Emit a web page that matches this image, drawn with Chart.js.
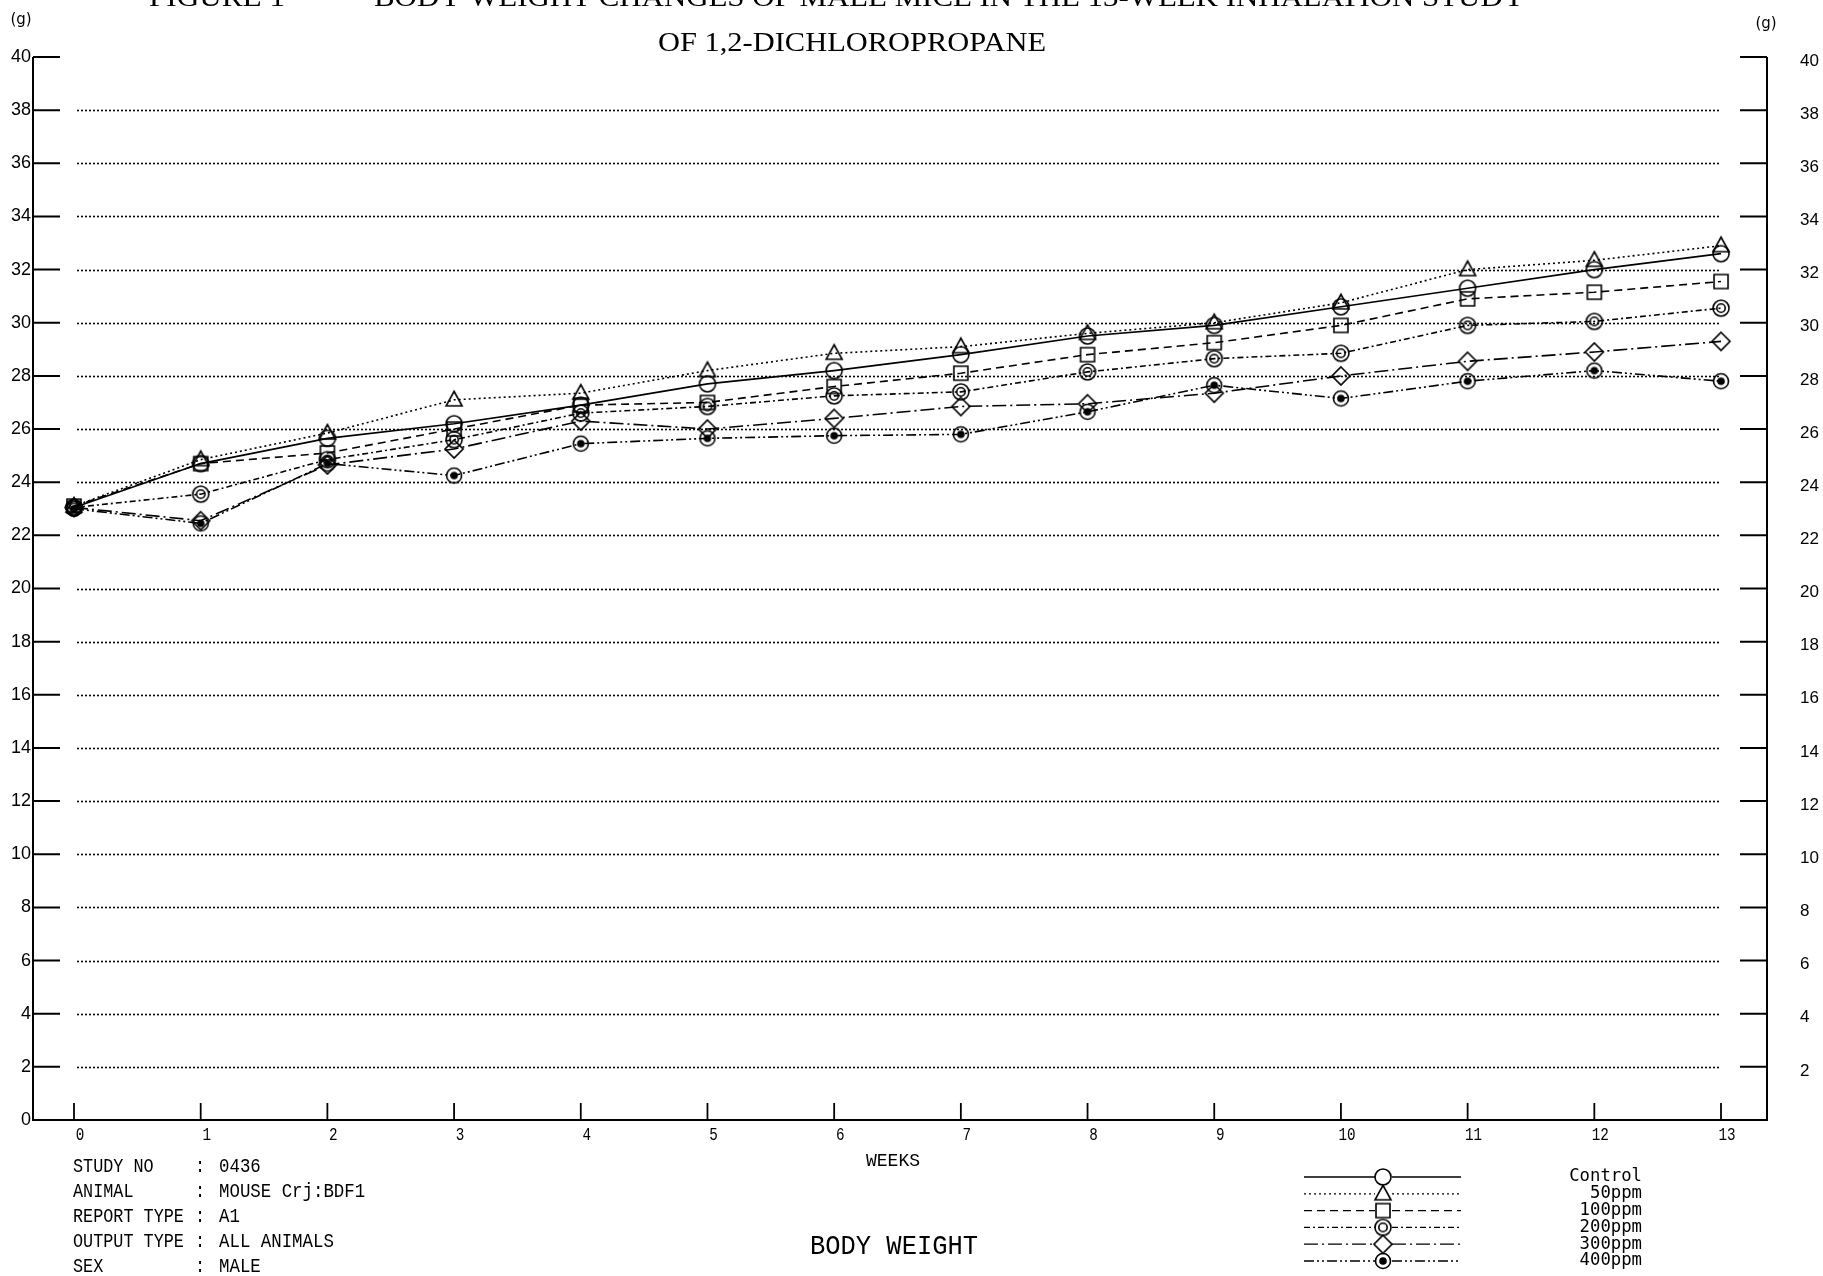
<!DOCTYPE html>
<html>
<head>
<meta charset="utf-8">
<title>Body weight - 1,2-dichloropropane</title>
<script src="https://cdn.jsdelivr.net/npm/chart.js@4.4.0/dist/chart.umd.min.js"></script>
<style>
  html, body { margin: 0; padding: 0; background: #fff; }
  canvas { display: block; }
</style>
</head>
<body>
<canvas id="chart" width="1823" height="1276"></canvas>
<script>
// weeks on the x axis
const weeks = [0, 1, 2, 3, 4, 5, 6, 7, 8, 9, 10, 11, 12, 13];
const yTicks = [0, 2, 4, 6, 8, 10, 12, 14, 16, 18, 20, 22, 24, 26, 28, 30, 32, 34, 36, 38, 40];

// body weight (g)
const control = [23.05, 24.7, 25.65, 26.2, 26.9, 27.7, 28.2, 28.8, 29.5, 29.9, 30.6, 31.3, 32.0, 32.6];
const ppm50   = [23.1, 24.85, 25.85, 27.1, 27.35, 28.2, 28.85, 29.1, 29.6, 30.0, 30.75, 32.0, 32.35, 32.9];
const ppm100  = [23.1, 24.7, 25.1, 26.0, 26.9, 27.0, 27.6, 28.1, 28.8, 29.25, 29.9, 30.9, 31.15, 31.55];
const ppm200  = [23.05, 23.55, 24.85, 25.6, 26.6, 26.85, 27.25, 27.4, 28.15, 28.65, 28.85, 29.9, 30.05, 30.55];
const ppm300  = [23.05, 22.55, 24.65, 25.25, 26.3, 26.0, 26.4, 26.85, 26.95, 27.35, 28.0, 28.55, 28.9, 29.3];
const ppm400  = [23.0, 22.45, 24.7, 24.25, 25.45, 25.65, 25.75, 25.8, 26.65, 27.65, 27.15, 27.8, 28.2, 27.8];

const groupNames = ['Control', '50ppm', '100ppm', '200ppm', '300ppm', '400ppm'];

const infoLabels = ['STUDY NO', 'ANIMAL', 'REPORT TYPE', 'OUTPUT TYPE', 'SEX'];
const infoValues = ['0436', 'MOUSE Crj:BDF1', 'A1', 'ALL ANIMALS', 'MALE'];

function makeMarker(kind) {
    const c = document.createElement('canvas');
    c.width = 24;
    c.height = 24;
    const g = c.getContext('2d');
    const m = 12;
    g.strokeStyle = '#000';
    g.fillStyle = '#000';
    g.lineWidth = 1.6;
    g.beginPath();
    if (kind === 'circle') {
        g.arc(m, m, 8, 0, Math.PI * 2);
    } else if (kind === 'triangle') {
        g.moveTo(m, m - 8.5);
        g.lineTo(m + 8, m + 6);
        g.lineTo(m - 8, m + 6);
        g.closePath();
    } else if (kind === 'square') {
        g.rect(m - 7, m - 7, 14, 14);
    } else if (kind === 'double') {
        g.arc(m, m, 8, 0, Math.PI * 2);
        g.moveTo(m + 4.2, m);
        g.arc(m, m, 4.2, 0, Math.PI * 2);
    } else if (kind === 'diamond') {
        g.moveTo(m, m - 9);
        g.lineTo(m + 9, m);
        g.lineTo(m, m + 9);
        g.lineTo(m - 9, m);
        g.closePath();
    } else if (kind === 'dot') {
        g.arc(m, m, 7.5, 0, Math.PI * 2);
        g.stroke();
        g.beginPath();
        g.arc(m, m, 3.8, 0, Math.PI * 2);
        g.fill();
        return c;
    }
    g.stroke();
    return c;
}

const seriesValues = [control, ppm50, ppm100, ppm200, ppm300, ppm400];
const markers = ['circle', 'triangle', 'square', 'double', 'diamond', 'dot'].map(makeMarker);
const dashes = [[], [2, 3], [8, 5], [6, 3, 2, 3], [14, 4, 2, 4], [10, 3, 2, 3, 2, 3]];

const datasets = seriesValues.map((vals, i) => ({
    label: groupNames[i],
    data: weeks.map((w, j) => ({ x: w, y: vals[j] })),
    borderColor: '#000',
    borderWidth: 1.6,
    borderDash: dashes[i],
    pointStyle: markers[i],
    pointRadius: 8,
    fill: false,
    tension: 0
}));

// draws text, optionally squeezed/stretched to a given width
function putText(ctx, str, x, y, font, opts) {
    opts = opts || {};
    ctx.save();
    ctx.font = font;
    ctx.textBaseline = opts.baseline || 'middle';
    ctx.textAlign = 'left';
    const w = ctx.measureText(str).width;
    const sx = opts.width ? opts.width / w : (opts.sx || 1);
    const tw = w * sx;
    let left = x;
    if (opts.align === 'center') left = x - tw / 2;
    else if (opts.align === 'right') left = x - tw;
    ctx.translate(left, y);
    ctx.scale(sx, 1);
    ctx.fillStyle = '#000';
    ctx.fillText(str, 0, 0);
    ctx.restore();
}

const paper = {
    id: 'paper',
    beforeDatasetsDraw(chart) {
        const ctx = chart.ctx;
        const xs = chart.scales.x, ys = chart.scales.y;
        const x0 = xs.getPixelForValue(0) + 3;
        const x1 = xs.getPixelForValue(13);
        ctx.save();
        ctx.strokeStyle = '#000';
        ctx.lineWidth = 1.6;
        ctx.setLineDash([2, 2]);
        yTicks.forEach(v => {
            if (v === 0 || v === 40) return;
            const y = Math.round(ys.getPixelForValue(v)) + 0.5;
            ctx.beginPath();
            ctx.moveTo(x0, y);
            ctx.lineTo(x1, y);
            ctx.stroke();
        });
        ctx.restore();
    },
    afterDraw(chart) {
        const ctx = chart.ctx;
        const xs = chart.scales.x, ys = chart.scales.y;
        const a = chart.chartArea;
        const yTop = ys.getPixelForValue(40), yBot = ys.getPixelForValue(0);
        ctx.save();
        ctx.strokeStyle = '#000';
        ctx.setLineDash([]);
        ctx.lineWidth = 2;
        ctx.beginPath();
        ctx.moveTo(a.left, yTop);
        ctx.lineTo(a.left, yBot);
        ctx.lineTo(a.right, yBot);
        ctx.lineTo(a.right, yTop);
        ctx.stroke();

        // y ticks on both sides
        yTicks.forEach(v => {
            if (v === 0) return;
            const y = ys.getPixelForValue(v);
            ctx.beginPath();
            ctx.moveTo(a.left, y);
            ctx.lineTo(a.left + 27, y);
            ctx.moveTo(a.right - 27, y);
            ctx.lineTo(a.right, y);
            ctx.stroke();
        });
        yTicks.forEach(v => {
            const y = ys.getPixelForValue(v);
            putText(ctx, String(v), a.left - 2, y, '18px "Liberation Sans Narrow", "Liberation Sans", sans-serif', { align: 'right' });
            if (v !== 0) putText(ctx, String(v), a.right + 33, y + 4, '17px "Liberation Sans", sans-serif', { align: 'left' });
        });

        // x ticks
        ctx.lineWidth = 1.8;
        weeks.forEach(w => {
            const x = xs.getPixelForValue(w);
            ctx.beginPath();
            ctx.moveTo(x, yBot);
            ctx.lineTo(x, yBot - 17);
            ctx.stroke();
            putText(ctx, String(w), x + 6, yBot + 15, '19px "Liberation Mono", monospace', { align: 'center', sx: 0.75 });
        });

        // units
        putText(ctx, '(g)', 21, 20, '15px "DejaVu Sans", sans-serif', { align: 'center' });
        putText(ctx, '(g)', 1766, 24, '15px "DejaVu Sans", sans-serif', { align: 'center' });

        // titles (top line is cut off by the page edge)
        const serif = '27px "Liberation Serif", "DejaVu Serif", serif';
        putText(ctx, 'FIGURE 1', 149, 6, serif, { baseline: 'alphabetic', width: 136 });
        putText(ctx, 'BODY WEIGHT CHANGES OF MALE MICE IN THE 13-WEEK INHALATION STUDY', 374, 6, serif, { baseline: 'alphabetic', width: 1151 });
        putText(ctx, 'OF 1,2-DICHLOROPROPANE', 658, 51, serif, { baseline: 'alphabetic', width: 388 });

        // axis name and chart name
        putText(ctx, 'WEEKS', 893, 1161, '18px "Liberation Mono", monospace', { align: 'center', width: 54 });
        putText(ctx, 'BODY WEIGHT', 894, 1247, '28px "Liberation Mono", monospace', { align: 'center', width: 168 });

        // info block
        const mono = '20px "Liberation Mono", monospace';
        infoLabels.forEach((lab, i) => {
            const y = 1167 + i * 25;
            putText(ctx, lab, 73, y, mono, { sx: 0.84 });
            putText(ctx, ':', 195, y, mono, { sx: 0.84 });
            putText(ctx, infoValues[i], 219, y, mono, { sx: 0.87 });
        });

        // legend
        chart.data.datasets.forEach((ds, i) => {
            const y = 1177 + i * 16.8;
            ctx.save();
            ctx.lineWidth = 1.3;
            ctx.setLineDash(ds.borderDash);
            ctx.beginPath();
            ctx.moveTo(1304, y);
            ctx.lineTo(1375, y);
            ctx.moveTo(1392, y);
            ctx.lineTo(1461, y);
            ctx.stroke();
            ctx.restore();
            ctx.drawImage(ds.pointStyle, 1383 - 12, y - 12);
            putText(ctx, ds.label, 1642, y, '17px "DejaVu Sans Mono", monospace', { align: 'right', width: ds.label.length * 10.4 });
        });
        ctx.restore();
    }
};

new Chart(document.getElementById('chart'), {
    type: 'line',
    data: { datasets: datasets },
    options: {
        responsive: false,
        animation: false,
        devicePixelRatio: 1,
        layout: { padding: { left: 33, right: 56, top: 57, bottom: 156 } },
        plugins: {
            legend: { display: false },
            tooltip: { enabled: false }
        },
        scales: {
            x: { type: 'linear', min: -0.3236, max: 13.363, display: false },
            y: { min: 0, max: 40, display: false }
        }
    },
    plugins: [paper]
});
</script>
</body>
</html>
